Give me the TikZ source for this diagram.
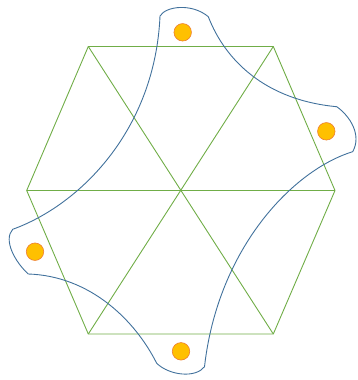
\documentclass[tikz,border=0pt]{standalone}
\begin{document}
\begin{tikzpicture}[x=1pt,y=-1pt,
  grid/.style={draw={rgb,255:red,112;green,173;blue,71},line width=0.9pt},
  outline/.style={draw={rgb,255:red,65;green,113;blue,156},line width=0.9pt,line join=round},
  dot/.style={circle,fill={rgb,255:red,255;green,192;blue,0},draw={rgb,255:red,237;green,125;blue,49},line width=0.6pt,minimum size=17.5pt,inner sep=0pt}]
\useasboundingbox (0,0) rectangle (357,380);
% hexagon
\coordinate (A) at (88.3,46.5);
\coordinate (B) at (273.3,46.5);
\coordinate (C) at (335,190.5);
\coordinate (D) at (273.3,334);
\coordinate (E) at (88.3,334);
\coordinate (F) at (26.7,190.5);
\draw[grid] (A) -- (B) -- (C) -- (D) -- (E) -- (F) -- cycle;
\draw[grid] (A) -- (D);
\draw[grid] (B) -- (E);
\draw[grid] (F) -- (C);
% outline
\draw[outline] (160,16)
  .. controls (166,6) and (192,3) .. (208.3,16.7)
  .. controls (225,60) and (265,100) .. (336.7,106.7)
  .. controls (350,116) and (362,135) .. (352.7,151.7)
  .. controls (293,170) and (218,248) .. (204.5,366.7)
  .. controls (196,378) and (170,376) .. (156.7,363.3)
  .. controls (135,320) and (90,276) .. (28.3,274)
  .. controls (15,262) and (3,240) .. (12.7,229.3)
  .. controls (80,205) and (155,130) .. cycle;
% dots
\node[dot] (d1) at (182.7,32.3) {};
\node[dot] (d2) at (326.3,131.3) {};
\node[dot] (d3) at (35,251.7) {};
\node[dot] (d4) at (181,351.3) {};
\end{tikzpicture}
\end{document}
